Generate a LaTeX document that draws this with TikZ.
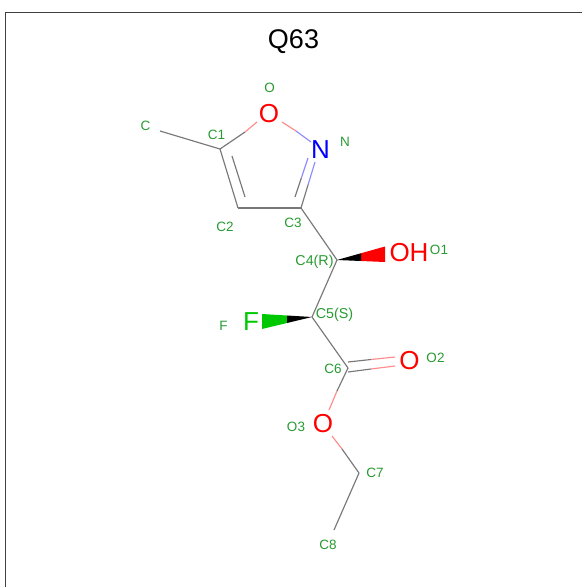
\documentclass[tikz,border=0pt]{standalone}
\usepackage{fontspec}
\setmainfont{Liberation Sans}
\usetikzlibrary{calc}
\definecolor{lblgreen}{RGB}{40,155,50}
\definecolor{bondgray}{RGB}{120,120,120}
\definecolor{oxred}{RGB}{255,0,0}
\definecolor{nblue}{RGB}{0,0,255}
\definecolor{fgreen}{RGB}{0,200,0}
\definecolor{lred}{RGB}{255,140,140}
\definecolor{lblue}{RGB}{140,140,255}
\tikzset{
  lbl/.style={text=lblgreen,inner sep=0pt,font=\fontsize{13.5}{13.5}\selectfont},
  lblwide/.style={lbl,font=\fontsize{14.3}{14.3}\selectfont},
  atomlbl/.style={inner sep=0pt,font=\fontsize{26}{26}\selectfont},
  bond/.style={draw=bondgray,line width=1.15pt},
  bondr/.style={draw=lred,line width=1.15pt},
  bondb/.style={draw=lblue,line width=1.15pt},
  frameline/.style={draw=black!75,line width=1.3pt}
}
\begin{document}
\begin{tikzpicture}[x=1pt,y=-1pt]
\useasboundingbox (0,0) rectangle (582,587);
\fill[white] (0,0) rectangle (582,587);
\coordinate (FTL) at (5.5,12.5);
\coordinate (FTR) at (582,12.5);
\coordinate (FBL) at (5.5,587);
\draw[frameline] (FBL) -- (FTL) -- (FTR);
\node[inner sep=0pt,font=\fontsize{27}{27}\selectfont] (title) at (293.5,42) {Q63};
% atoms
\coordinate (CM) at (160,131);
\coordinate (C1) at (220,149);
\coordinate (C2) at (238,208);
\coordinate (C3) at (301,208);
\coordinate (C4) at (337,260);
\coordinate (C5) at (312,317);
\coordinate (C6) at (348,368);
\coordinate (C7) at (359,473);
\coordinate (C8) at (334,530);
\node[atomlbl,text=oxred] (O) at (269,113.5) {O};
\node[atomlbl,text=nblue] (N) at (320.5,150) {N};
\node[atomlbl,text=oxred] (OH) at (409,253) {OH};
\node[atomlbl,text=fgreen] (F) at (251,321.5) {F};
\node[atomlbl,text=oxred] (O2) at (409.5,360.5) {O};
\node[atomlbl,text=oxred] (O3) at (323,423.5) {O};
% bond ends
\coordinate (C1O) at (257,122);
\coordinate (OC1m) at (245,132);
\coordinate (ONa) at (282,122);
\coordinate (ONm) at (296,131);
\coordinate (ONb) at (311,142);
\coordinate (C1in) at (232,156);
\coordinate (C2in) at (245,197);
\coordinate (C3N) at (315,162);
\coordinate (C3Nm) at (308,185);
\coordinate (C3in) at (295,197);
\coordinate (C3inm) at (301.5,177.5);
\coordinate (Nin) at (308,158);
\coordinate (C6a) at (348,362);
\coordinate (C6am) at (371,359.5);
\coordinate (O2a) at (395,357);
\coordinate (C6b) at (348,372);
\coordinate (C6bm) at (371,369);
\coordinate (O2b) at (395,366);
\coordinate (C6m) at (337,391);
\coordinate (O3a) at (329,410);
\coordinate (O3b) at (332,436);
\coordinate (O3m) at (342,449);
% bonds
\draw[bond] (CM) -- (C1);
\draw[bond] (C1) -- (OC1m);
\draw[bondr] (OC1m) -- (C1O);
\draw[bondr] (ONa) -- (ONm);
\draw[bondb] (ONm) -- (ONb);
\draw[bond] (C1) -- (C2);
\draw[bond] (C1in) -- (C2in);
\draw[bond] (C2) -- (C3);
\draw[bond] (C3) -- (C3Nm);
\draw[bondb] (C3Nm) -- (C3N);
\draw[bond] (C3in) -- (C3inm);
\draw[bondb] (C3inm) -- (Nin);
\draw[bond] (C3) -- (C4);
\draw[bond] (C4) -- (C5);
\draw[bond] (C5) -- (C6);
\draw[bond] (C6a) -- (C6am);
\draw[bondr] (C6am) -- (O2a);
\draw[bond] (C6b) -- (C6bm);
\draw[bondr] (C6bm) -- (O2b);
\draw[bond] (C6) -- (C6m);
\draw[bondr] (C6m) -- (O3a);
\draw[bondr] (O3b) -- (O3m);
\draw[bond] (O3m) -- (C7);
\draw[bond] (C7) -- (C8);
% wedges
\coordinate (W1a) at (385,246.5);
\coordinate (W1b) at (385,262);
\coordinate (W2a) at (262,314);
\coordinate (W2b) at (262,329);
\fill[oxred] ($(C4)!.5!(W1a)$) -- (W1a) -- (W1b) -- ($(C4)!.5!(W1b)$) -- cycle;
\fill[black] (C4) -- ($(C4)!.5!(W1a)$) -- ($(C4)!.5!(W1b)$) -- cycle;
\fill[fgreen] ($(C5)!.5!(W2a)$) -- (W2a) -- (W2b) -- ($(C5)!.5!(W2b)$) -- cycle;
\fill[black] (C5) -- ($(C5)!.5!(W2a)$) -- ($(C5)!.5!(W2b)$) -- cycle;
% index labels
\node[lbl] (lC) at (145.5,125.5) {C};
\node[lbl] (lC1) at (216.5,134.5) {C1};
\node[lbl] (lC2) at (225,226.5) {C2};
\node[lbl] (lC3) at (293,222.5) {C3};
\node[lbl] (lO) at (269.5,87.5) {O};
\node[lbl] (lN) at (345,141.5) {N};
\node[lblwide] (lC4) at (314.5,261.5) {C4(R)};
\node[lblwide] (lC5) at (334.5,314.5) {C5(S)};
\node[lbl] (lC6) at (333,368.5) {C6};
\node[lbl] (lO1) at (439,249.5) {O1};
\node[lbl] (lO2) at (435.5,357.5) {O2};
\node[lbl] (lO3) at (296,426.5) {O3};
\node[lbl] (lF) at (223.5,325.5) {F};
\node[lbl] (lC7) at (375,472.5) {C7};
\node[lbl] (lC8) at (328,544.5) {C8};
\end{tikzpicture}
\end{document}
